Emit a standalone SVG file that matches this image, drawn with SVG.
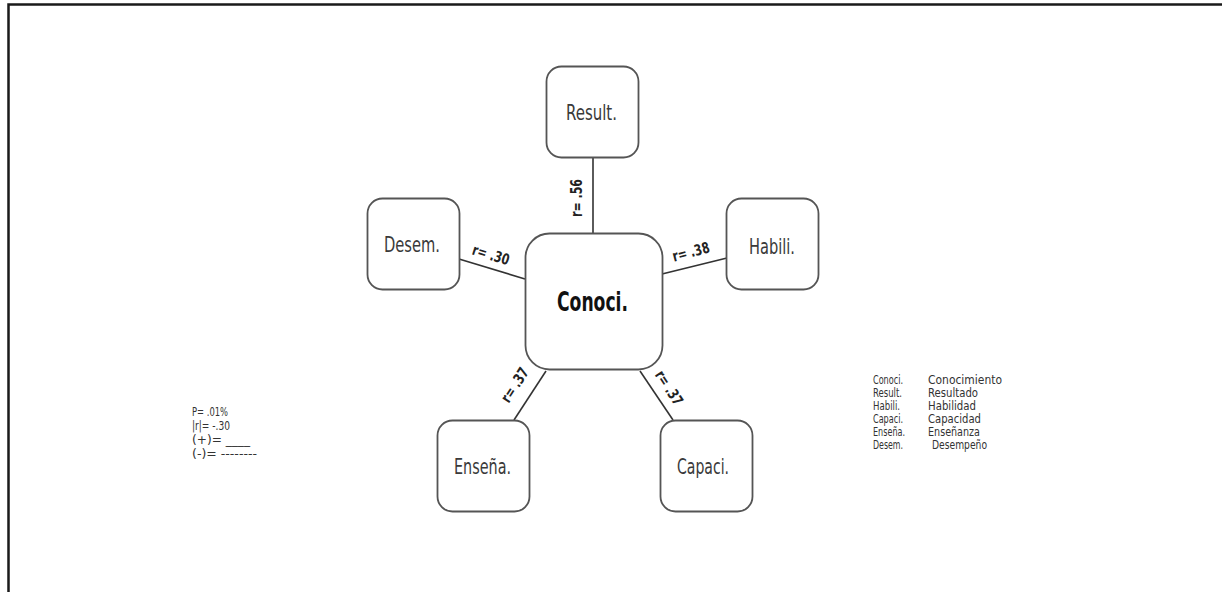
<svg xmlns="http://www.w3.org/2000/svg" width="1222" height="592" viewBox="0 0 1222 592">
<style>
.frame{fill:none;stroke:#1a1a1a;stroke-width:2.5}
.box{fill:#fff;stroke:#555;stroke-width:1.8}
.lbl{font-family:"DejaVu Sans Condensed","Liberation Sans Narrow","Liberation Sans",sans-serif;fill:#3a3a3a;font-size:21px}
.main{font-family:"DejaVu Sans Condensed","Liberation Sans Narrow","Liberation Sans",sans-serif;fill:#111;font-size:27px;font-weight:bold}
.edge{stroke:#333;stroke-width:1.6;fill:none}
.r{font-family:"DejaVu Sans Condensed","Liberation Sans Narrow","Liberation Sans",sans-serif;fill:#222;font-size:15px;font-weight:bold;text-anchor:middle;dominant-baseline:central}
.leg{font-family:"DejaVu Sans Condensed","Liberation Sans Narrow","Liberation Sans",sans-serif;fill:#333;font-size:13px}
</style>
<rect width="1222" height="592" fill="#fff"/>
<rect class="frame" x="8.5" y="4.5" width="1300" height="700"/>
<g id="connectors">
<line class="edge" x1="593" y1="157" x2="593" y2="233"/>
<line class="edge" x1="459" y1="259" x2="525" y2="279"/>
<line class="edge" x1="662" y1="274" x2="727" y2="258"/>
<line class="edge" x1="546" y1="371" x2="514" y2="420"/>
<line class="edge" x1="640" y1="371" x2="673" y2="420"/>
<text class="r" transform="translate(577,198) rotate(-90)" textLength="38" lengthAdjust="spacingAndGlyphs">r= .56</text>
<text class="r" transform="translate(491,255) rotate(17)" textLength="38" lengthAdjust="spacingAndGlyphs">r= .30</text>
<text class="r" transform="translate(691,252) rotate(-15)" textLength="38" lengthAdjust="spacingAndGlyphs">r= .38</text>
<text class="r" transform="translate(515,385) rotate(-57)" textLength="38" lengthAdjust="spacingAndGlyphs">r= .37</text>
<text class="r" transform="translate(669,388) rotate(57)" textLength="38" lengthAdjust="spacingAndGlyphs">r= .37</text>
</g>
<g id="node-conoci">
<rect class="box" x="525.5" y="233.5" width="137" height="136" rx="24"/>
<text class="main" x="557" y="311" textLength="71" lengthAdjust="spacingAndGlyphs">Conoci.</text>
</g>
<g id="node-result">
<rect class="box" x="546.5" y="66.5" width="92" height="91" rx="15"/>
<text class="lbl" x="566" y="120" textLength="51" lengthAdjust="spacingAndGlyphs">Result.</text>
</g>
<g id="node-desem">
<rect class="box" x="367.5" y="198.5" width="92" height="91" rx="15"/>
<text class="lbl" x="384" y="252" textLength="56" lengthAdjust="spacingAndGlyphs">Desem.</text>
</g>
<g id="node-habili">
<rect class="box" x="726.5" y="198.5" width="92" height="91" rx="15"/>
<text class="lbl" x="749" y="254" textLength="46" lengthAdjust="spacingAndGlyphs">Habili.</text>
</g>
<g id="node-ensena">
<rect class="box" x="437.5" y="420.5" width="92" height="91" rx="15"/>
<text class="lbl" x="454" y="474" textLength="57" lengthAdjust="spacingAndGlyphs">Enseña.</text>
</g>
<g id="node-capaci">
<rect class="box" x="660.5" y="420.5" width="92" height="91" rx="15"/>
<text class="lbl" x="677" y="474" textLength="52" lengthAdjust="spacingAndGlyphs">Capaci.</text>
</g>
<g id="legend-stats">
<text class="leg" x="192" y="416" textLength="36" lengthAdjust="spacingAndGlyphs">P= .01%</text>
<text class="leg" x="192" y="430" textLength="38" lengthAdjust="spacingAndGlyphs">|r|= -.30</text>
<text class="leg" x="192" y="444" textLength="58" lengthAdjust="spacingAndGlyphs">(+)= ____</text>
<text class="leg" x="192" y="458" textLength="65" lengthAdjust="spacingAndGlyphs">(-)= --------</text>
</g>
<g id="legend-abbr">
<text class="leg" x="873" y="384" textLength="30" lengthAdjust="spacingAndGlyphs">Conoci.</text><text class="leg" x="928" y="384" textLength="74" lengthAdjust="spacingAndGlyphs">Conocimiento</text>
<text class="leg" x="873" y="397" textLength="29" lengthAdjust="spacingAndGlyphs">Result.</text><text class="leg" x="928" y="397" textLength="50" lengthAdjust="spacingAndGlyphs">Resultado</text>
<text class="leg" x="873" y="410" textLength="27" lengthAdjust="spacingAndGlyphs">Habili.</text><text class="leg" x="928" y="410" textLength="48" lengthAdjust="spacingAndGlyphs">Habilidad</text>
<text class="leg" x="873" y="423" textLength="30" lengthAdjust="spacingAndGlyphs">Capaci.</text><text class="leg" x="928" y="423" textLength="53" lengthAdjust="spacingAndGlyphs">Capacidad</text>
<text class="leg" x="873" y="436" textLength="32" lengthAdjust="spacingAndGlyphs">Enseña.</text><text class="leg" x="928" y="436" textLength="52" lengthAdjust="spacingAndGlyphs">Enseñanza</text>
<text class="leg" x="873" y="449" textLength="30" lengthAdjust="spacingAndGlyphs">Desem.</text><text class="leg" x="932" y="449" textLength="55" lengthAdjust="spacingAndGlyphs">Desempeño</text>
</g>
</svg>
